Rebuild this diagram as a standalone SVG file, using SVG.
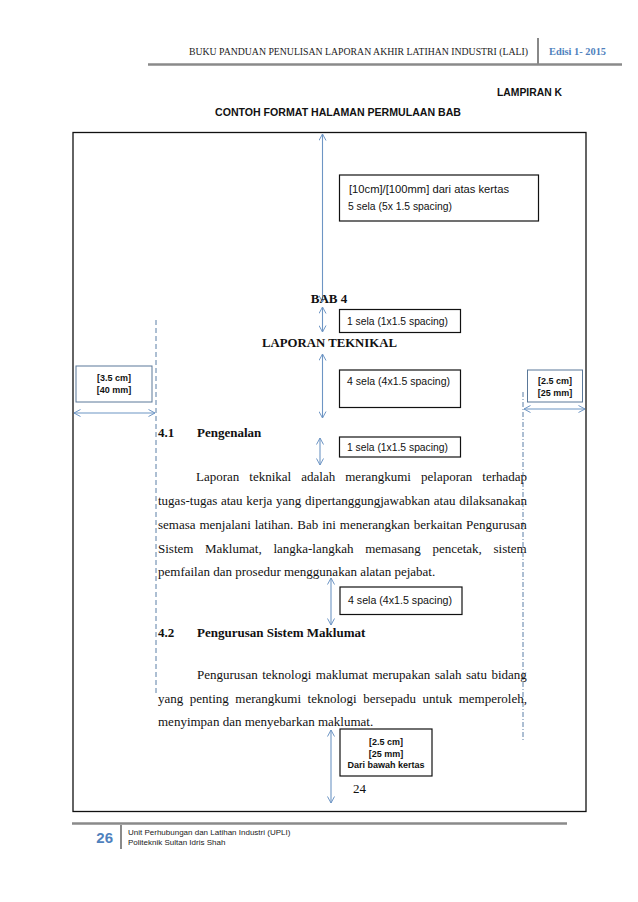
<svg xmlns="http://www.w3.org/2000/svg" width="638" height="902" viewBox="0 0 638 902">
<defs>
<marker id="ah" viewBox="0 0 8 8" refX="7.5" refY="4" markerWidth="8" markerHeight="8" markerUnits="userSpaceOnUse" orient="auto-start-reverse">
<path d="M1,0.5 L7.5,4 L1,7.5" fill="none" stroke="#6D95C4" stroke-width="1"/>
</marker>
<style>
.hdr{font-family:"Liberation Serif",serif;font-size:9.5px;fill:#222}
.ed{font-family:"Liberation Serif",serif;font-size:10px;font-weight:bold;fill:#4F81BD}
.ttl{font-family:"Liberation Sans",Arial,sans-serif;font-size:11px;font-weight:bold;fill:#111}
.tb{font-family:"Liberation Serif",serif;font-size:13px;font-weight:bold;fill:#111}
.tn{font-family:"Liberation Serif",serif;font-size:13px;fill:#111}
.lbl{font-family:"Liberation Sans",Arial,sans-serif;font-size:10.5px;fill:#111}
.lblb{font-family:"Liberation Sans",Arial,sans-serif;font-size:9px;font-weight:bold;fill:#111}
.box{fill:#fff;stroke:#111;stroke-width:1.2}
.mbox{fill:#fff;stroke:#5A7899;stroke-width:1}
.arr{stroke:#6D95C4;stroke-width:1.1;fill:none;marker-start:url(#ah);marker-end:url(#ah)}
.foot{font-family:"Liberation Sans",Arial,sans-serif;font-size:8px;fill:#222}
</style>
</defs>
<rect width="638" height="902" fill="#fff"/>

<!-- page header -->
<g id="header">
<text class="hdr" x="189" y="55" textLength="339" lengthAdjust="spacingAndGlyphs">BUKU PANDUAN PENULISAN LAPORAN AKHIR LATIHAN INDUSTRI (LALI)</text>
<line x1="538" y1="38" x2="538" y2="64" stroke="#888" stroke-width="2"/>
<text class="ed" x="549" y="55" textLength="57" lengthAdjust="spacingAndGlyphs">Edisi 1- 2015</text>
<line x1="148" y1="64.5" x2="622" y2="64.5" stroke="#8a8a8a" stroke-width="2.5"/>
</g>

<g id="titles">
<text class="ttl" x="562" y="96" text-anchor="end" textLength="65" lengthAdjust="spacingAndGlyphs">LAMPIRAN K</text>
<text class="ttl" x="215" y="116" textLength="246" lengthAdjust="spacingAndGlyphs">CONTOH FORMAT HALAMAN PERMULAAN BAB</text>
</g>

<!-- page frame -->
<g id="frame">
<rect x="73" y="132.5" width="513" height="679" fill="none" stroke="#111" stroke-width="1.3"/>
</g>

<!-- margin guides -->
<g id="guides">
<line x1="156" y1="320" x2="156" y2="693" stroke="#5B7FA6" stroke-width="1" stroke-dasharray="5,3"/>
<line x1="523" y1="392" x2="523" y2="742" stroke="#5B7FA6" stroke-width="1" stroke-dasharray="5,2,1,2"/>
</g>

<!-- connectors -->
<g id="connectors">
<line class="arr" x1="322.5" y1="134" x2="322.5" y2="302"/>
<line class="arr" x1="322.5" y1="307" x2="322.5" y2="332"/>
<line class="arr" x1="322.5" y1="354" x2="322.5" y2="418"/>
<line class="arr" x1="74" y1="413" x2="155" y2="413"/>
<line class="arr" x1="524" y1="409" x2="585" y2="409"/>
<line class="arr" x1="320" y1="438" x2="320" y2="465"/>
<line class="arr" x1="331" y1="578" x2="331" y2="625"/>
<line class="arr" x1="331" y1="730" x2="331" y2="803"/>
</g>

<!-- annotation boxes -->
<g id="box-top">
<rect class="box" x="339.5" y="175" width="199" height="46"/>
<text class="lbl" x="349" y="193" textLength="160" lengthAdjust="spacingAndGlyphs">[10cm]/[100mm] dari atas kertas</text>
<text class="lbl" x="348" y="210" textLength="104" lengthAdjust="spacingAndGlyphs">5 sela (5x 1.5 spacing)</text>
</g>
<g id="box-1sela-a">
<rect class="box" x="339.5" y="309.5" width="121" height="23"/>
<text class="lbl" x="347" y="325" textLength="101" lengthAdjust="spacingAndGlyphs">1 sela (1x1.5 spacing)</text>
</g>
<g id="box-4sela-a">
<rect class="box" x="339.5" y="370" width="121" height="37.5"/>
<text class="lbl" x="347" y="385" textLength="103" lengthAdjust="spacingAndGlyphs">4 sela (4x1.5 spacing)</text>
</g>
<g id="box-left">
<rect class="mbox" x="76" y="366" width="76" height="36"/>
<text class="lblb" x="114" y="381" text-anchor="middle">[3.5 cm]</text>
<text class="lblb" x="114" y="393" text-anchor="middle">[40 mm]</text>
</g>
<g id="box-right">
<rect class="mbox" x="527.5" y="370" width="55" height="32"/>
<text class="lblb" x="555" y="384" text-anchor="middle">[2.5 cm]</text>
<text class="lblb" x="555" y="396" text-anchor="middle">[25 mm]</text>
</g>
<g id="box-1sela-b">
<rect class="box" x="339.5" y="437" width="121" height="20"/>
<text class="lbl" x="347" y="451" textLength="101" lengthAdjust="spacingAndGlyphs">1 sela (1x1.5 spacing)</text>
</g>
<g id="box-4sela-b">
<rect class="box" x="340" y="587" width="122" height="27.5"/>
<text class="lbl" x="348" y="604" textLength="104" lengthAdjust="spacingAndGlyphs">4 sela (4x1.5 spacing)</text>
</g>
<g id="box-bottom">
<rect class="box" x="340" y="729" width="92" height="47"/>
<text class="lblb" x="386" y="745" text-anchor="middle">[2.5 cm]</text>
<text class="lblb" x="386" y="756.5" text-anchor="middle">[25 mm]</text>
<text class="lblb" x="386" y="768" text-anchor="middle">Dari bawah kertas</text>
</g>

<!-- page content -->
<g id="content">
<text class="tb" x="329" y="303" text-anchor="middle">BAB 4</text>
<text class="tb" x="262" y="347" textLength="135" lengthAdjust="spacingAndGlyphs">LAPORAN TEKNIKAL</text>

<text class="tb" x="158" y="437">4.1</text>
<text class="tb" x="197" y="437">Pengenalan</text>
<text class="tn" x="196" y="481" word-spacing="6.8">Laporan teknikal adalah merangkumi pelaporan terhadap</text>
<text class="tn" x="158" y="505" word-spacing="0.5">tugas-tugas atau kerja yang dipertanggungjawabkan atau dilaksanakan</text>
<text class="tn" x="158" y="529" word-spacing="0.7">semasa menjalani latihan. Bab ini menerangkan berkaitan Pengurusan</text>
<text class="tn" x="158" y="553" word-spacing="8.4">Sistem Maklumat, langka-langkah memasang pencetak, sistem</text>
<text class="tn" x="158" y="576">pemfailan dan prosedur menggunakan alatan pejabat.</text>

<text class="tb" x="158" y="637">4.2</text>
<text class="tb" x="197" y="637">Pengurusan Sistem Maklumat</text>
<text class="tn" x="197" y="679" word-spacing="1.3">Pengurusan teknologi maklumat merupakan salah satu bidang</text>
<text class="tn" x="158" y="703" word-spacing="3.3">yang penting merangkumi teknologi bersepadu untuk memperoleh,</text>
<text class="tn" x="158" y="726">menyimpan dan menyebarkan maklumat.</text>

<text class="tn" x="353" y="793">24</text>
</g>

<!-- page footer -->
<g id="footer">
<line x1="72" y1="823.5" x2="567" y2="823.5" stroke="#8a8a8a" stroke-width="2.5"/>
<text x="113" y="843" text-anchor="end" font-family="Liberation Sans, Arial, sans-serif" font-size="15" font-weight="bold" fill="#4F81BD">26</text>
<line x1="121" y1="825" x2="121" y2="849" stroke="#8a8a8a" stroke-width="2"/>
<text class="foot" x="128" y="835">Unit Perhubungan dan Latihan Industri (UPLI)</text>
<text class="foot" x="128" y="845">Politeknik Sultan Idris Shah</text>
</g>
</svg>
